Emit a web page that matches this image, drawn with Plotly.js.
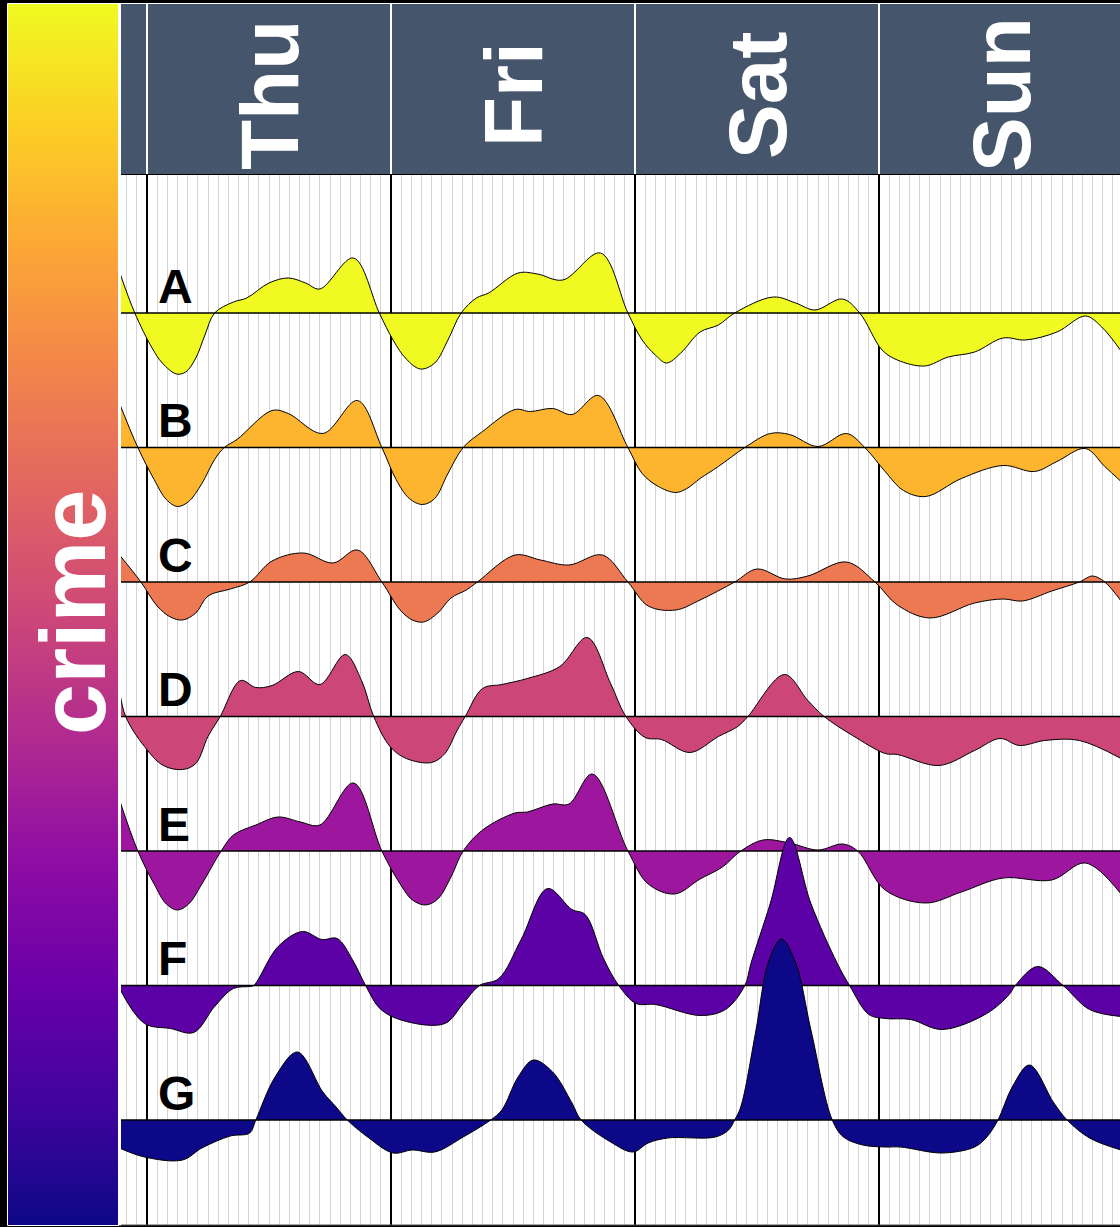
<!DOCTYPE html>
<html>
<head>
<meta charset="utf-8">
<script src="https://cdn.plot.ly/plotly-3.0.1.min.js"></script>
<style>html,body{margin:0;padding:0;background:#000;}#chart{width:1120px;height:1227px;}</style>
</head>
<body>
<div id="chart"></div>
<script>
// ---- data (hours from Thu 00:00, deviation of each crime from its mean) ----
const categories = ['A', 'B', 'C', 'D', 'E', 'F', 'G'];
const days = ['Thu', 'Fri', 'Sat', 'Sun'];
const dayStartHours = [0, 24, 48, 72];

const hoursA = [-2.7, -1.2, 0.5, 1.5, 2.9, 3.8, 4.8, 5.7, 6.65, 8.5, 9.8, 12.0, 13.9, 15.6, 17.0, 20.3, 22.85, 24.2, 25.5, 26.9, 28.3, 29.6, 30.9, 32.4, 33.6, 36.5, 38.4, 40.9, 44.6, 47.3, 48.7, 50.0, 51.1, 52.5, 54.4, 56.2, 57.8, 61.6, 63.8, 65.7, 68.4, 70.1, 72.3, 73.8, 76.5, 78.8, 81.4, 84.2, 86.4, 89.5, 92.3, 93.9, 95.8];
const valuesA = [41, 0, -35, -50, -61, -59, -45, -22, 0, 11, 15, 30, 35, 30, 24, 55, 0, -27, -46, -56, -50, -27, 0, 15, 20, 40, 39, 33, 60, 0, -27, -42, -50, -40, -19, -12, 0, 16, 10, 3, 14, 0, -37, -47, -53, -44, -39, -25, -27, -19, -3, -14, -38];

const hoursB = [-2.7, -0.9, 0.7, 1.9, 3.0, 4.1, 5.4, 6.65, 7.6, 8.85, 12.3, 13.9, 17.3, 20.7, 23.1, 24.5, 25.8, 27.1, 28.3, 29.6, 31.1, 33.0, 36.2, 37.7, 39.9, 41.8, 44.4, 47.3, 48.7, 50.3, 52.0, 53.1, 54.4, 56.2, 58.8, 61.3, 63.2, 66.0, 68.8, 70.6, 72.6, 74.4, 76.6, 80.1, 84.2, 87.3, 89.5, 92.3, 94.2, 95.8];
const valuesB = [44, 0, -32, -52, -59, -54, -36, -12, 0, 8, 37, 34, 14, 47, 0, -32, -51, -57, -51, -26, 0, 16, 38, 36, 39, 33, 52, 0, -26, -39, -45, -41, -31, -19, 0, 14, 13, 1, 14, 0, -24, -43, -49, -31, -18, -24, -14, -1, -19, -34];

const hoursC = [-2.7, -0.6, 1.0, 2.3, 3.5, 4.8, 6.0, 8.2, 10.1, 12.3, 15.4, 18.3, 20.7, 23.1, 24.9, 26.1, 27.2, 28.6, 29.9, 31.4, 32.5, 36.2, 38.7, 41.5, 44.8, 47.3, 49.3, 52.0, 54.4, 57.8, 60.0, 62.8, 65.0, 68.8, 71.6, 73.8, 77.0, 81.4, 84.2, 86.1, 89.0, 91.7, 93.0, 94.2, 95.8];
const valuesC = [27, 0, -24, -35, -38, -31, -14, -7, 0, 21, 29, 19, 32, 0, -28, -38, -40, -31, -16, -8, 0, 27, 22, 17, 27, 0, -24, -28, -18, 0, 13, 3, 6, 20, 0, -23, -36, -21, -17, -19, -9, 0, 6, 0, -19];

const hoursD = [-2.7, -2.1, -0.25, 1.6, 3.5, 4.8, 6.0, 7.2, 9.2, 10.7, 12.3, 14.9, 17.0, 19.5, 21.1, 22.3, 23.9, 25.5, 28.0, 29.3, 30.5, 31.3, 33.0, 34.9, 37.4, 40.6, 43.3, 45.6, 47.1, 49.0, 50.6, 53.4, 56.2, 58.1, 59.1, 62.7, 65.0, 66.6, 69.4, 72.6, 73.8, 77.9, 81.4, 83.9, 85.8, 88.3, 91.7, 95.8];
const valuesD = [26, 0, -30, -49, -53, -47, -20, 0, 36, 29, 31, 45, 32, 62, 36, 0, -30, -42, -46, -37, -14, 0, 28, 32, 38, 50, 79, 33, 0, -21, -23, -36, -20, -10, 0, 42, 16, 0, -19, -37, -38, -49, -34, -22, -29, -24, -24, -42];

const hoursE = [-2.7, -0.9, 0.7, 1.9, 3.0, 4.1, 5.4, 7.3, 8.5, 10.7, 12.9, 15.1, 17.0, 20.3, 23.1, 24.9, 26.1, 27.4, 28.6, 29.9, 31.1, 33.0, 36.2, 37.4, 39.9, 41.5, 43.8, 47.3, 49.3, 51.9, 54.4, 56.6, 58.4, 60.6, 63.2, 66.0, 68.4, 69.9, 72.6, 76.6, 80.1, 84.2, 89.0, 92.3, 95.8];
const valuesE = [51, 0, -33, -53, -59, -53, -33, 0, 16, 26, 34, 29, 26, 68, 0, -33, -49, -54, -48, -26, 0, 21, 38, 39, 47, 47, 77, 0, -33, -43, -28, -16, 0, 11, 8, 1, 7, 0, -39, -52, -41, -27, -29, -12, -43];

const hoursF = [-2.7, -0.25, 2.3, 4.6, 6.65, 8.5, 10.1, 10.5, 12.9, 15.3, 17.2, 18.7, 20.2, 21.5, 23.0, 25.5, 29.3, 31.1, 32.7, 34.6, 36.8, 39.4, 41.8, 43.1, 44.9, 46.4, 48.1, 50.0, 54.4, 56.9, 58.8, 59.4, 61.3, 63.2, 65.3, 67.9, 69.1, 71.0, 72.6, 75.1, 78.2, 82.6, 84.8, 85.4, 87.6, 90.1, 92.7, 95.8];
const valuesF = [-3, -38, -43, -47, -21, -3, -1, 0, 39, 54, 46, 47, 26, 0, -24, -36, -38, -18, 0, 7, 46, 97, 76, 71, 27, 0, -18, -19, -30, -24, 0, 22, 82, 148, 82, 22, 0, -29, -33, -34, -44, -28, -9, 0, 19, 0, -24, -31];

const hoursG = [-2.7, -0.25, 3.5, 5.4, 8.2, 10.1, 10.7, 12.6, 14.8, 17.3, 18.6, 19.7, 21.7, 24.2, 26.1, 28.3, 31.1, 33.8, 34.9, 36.5, 38.0, 39.9, 41.8, 42.7, 45.6, 47.8, 49.3, 51.2, 55.9, 57.2, 57.8, 58.4, 59.9, 61.1, 62.4, 63.8, 65.3, 67.4, 68.5, 70.4, 72.6, 74.1, 78.2, 81.4, 82.6, 83.7, 85.1, 86.8, 89.2, 90.5, 92.7, 95.8];
const valuesG = [-28, -37, -40, -28, -16, -13, 0, 43, 68, 28, 13, 0, -17, -33, -30, -32, -17, 0, 10, 43, 60, 48, 17, 0, -22, -32, -23, -18, -17, -10, 0, 13, 90, 157, 181, 157, 90, 0, -17, -25, -27, -27, -33, -27, -17, 0, 33, 55, 17, 0, -18, -30];

// ---- style ----
const colors = ['#f0f921', '#fdb42f', '#ed7953', '#cc4778', '#9c179e', '#5c01a6', '#0d0887'];
const plasmaScale = [
  [0.0, '#0d0887'], [0.1, '#41049d'], [0.2, '#6a00a8'], [0.3, '#8f0da4'],
  [0.4, '#b12a90'], [0.5, '#cc4778'], [0.6, '#e16462'], [0.7, '#f2844b'],
  [0.8, '#fca636'], [0.9, '#fcce25'], [1.0, '#f0f921']
];
const seriesHours = [hoursA, hoursB, hoursC, hoursD, hoursE, hoursF, hoursG];
const seriesValues = [valuesA, valuesB, valuesC, valuesD, valuesE, valuesF, valuesG];

const W = 1120, H = 1227, MT = 4, MB = 2;
const PH = H - MT - MB;                 // paper height in px
const py = p => (H - MB - p) / PH;       // pixel row -> paper y
const px = p => p / W;                   // pixel col -> paper x
const X0 = -2.557, X1 = 95.70;           // visible hours
const firstBase = -138, rowGap = 134.5;  // baseline layout in y-axis units
const labelFont = 'Liberation Sans, Arial, sans-serif';

const traces = [];
const annotations = [];
categories.forEach((cat, i) => {
  const base = firstBase - rowGap * i;
  const hrs = seriesHours[i];
  const xs = [hrs[0], hrs[hrs.length - 1]];
  traces.push({
    type: 'scatter', mode: 'lines', x: xs, y: [base, base],
    line: {color: 'black', width: 1.5}, hoverinfo: 'skip', xaxis: 'x', yaxis: 'y'
  });
  traces.push({
    type: 'scatter', mode: 'lines', x: hrs, y: seriesValues[i].map(v => base + v),
    line: {color: 'black', width: 1, shape: 'spline', smoothing: 1},
    fill: 'tonexty', fillcolor: colors[i], name: cat, xaxis: 'x', yaxis: 'y'
  });
  annotations.push({
    xref: 'x', yref: 'y', x: 0.9, y: base + 27, xanchor: 'left', yanchor: 'middle',
    text: cat, showarrow: false,
    font: {family: labelFont, size: 48, color: 'black', weight: 'bold'}
  });
});

// header subplot placeholder
traces.push({type: 'scatter', x: [null], y: [null], xaxis: 'x2', yaxis: 'y2', hoverinfo: 'skip', showlegend: false});

// colour strip (crime scale)
traces.push({
  type: 'heatmap', xaxis: 'x3', yaxis: 'y3',
  x: [0, 1], y: categories.map((c, i) => categories.length - 1 - i),
  z: categories.map((c, i) => [categories.length - 1 - i, categories.length - 1 - i]),
  colorscale: plasmaScale, zmin: 0, zmax: categories.length - 1, zsmooth: 'best',
  showscale: false, hoverinfo: 'skip'
});

days.forEach((d, k) => {
  annotations.push({
    xref: 'x2', yref: 'paper', x: dayStartHours[k] + 12, y: py(95),
    xanchor: 'center', yanchor: 'middle', textangle: -90, text: d, showarrow: false,
    font: {family: labelFont, size: 82, color: 'white', weight: 'bold'}
  });
});
annotations.push({
  xref: 'paper', yref: 'paper', x: px(73), y: py(612), xanchor: 'center', yanchor: 'middle',
  textangle: -90, text: 'crime', showarrow: false,
  font: {family: labelFont, size: 92, color: 'white', weight: 'bold'}
});

const shapes = [
  // header background
  {type: 'rect', xref: 'x2 domain', yref: 'y2 domain', x0: 0, x1: 1, y0: 0, y1: 1,
   fillcolor: '#45556c', line: {width: 0}, layer: 'below'},
  // white frames
  {type: 'rect', xref: 'paper', yref: 'paper', x0: px(7.5), x1: px(118.5), y0: py(1225.5), y1: py(3.5),
   line: {color: 'white', width: 1}, fillcolor: 'rgba(0,0,0,0)', layer: 'above'},
  {type: 'rect', xref: 'paper', yref: 'paper', x0: px(118.5), x1: px(121), y0: py(1225.5), y1: py(3.5),
   line: {width: 0}, fillcolor: 'white', layer: 'above'},
  {type: 'line', xref: 'paper', yref: 'paper', x0: px(118), x1: 1, y0: py(3.5), y1: py(3.5),
   line: {color: 'white', width: 1}, layer: 'above'},
  {type: 'line', xref: 'paper', yref: 'paper', x0: px(121), x1: 1, y0: py(1225), y1: py(1225),
   line: {color: '#555555', width: 1}, layer: 'above'}
];

const layout = {
  width: W, height: H, margin: {l: 0, r: 0, t: MT, b: MB, pad: 0},
  paper_bgcolor: 'black', plot_bgcolor: 'white', showlegend: false,
  xaxis: {domain: [px(121), 1], range: [X0, X1], anchor: 'y',
    tick0: 0, dtick: 24, showgrid: true, gridcolor: 'black', gridwidth: 2,
    minor: {tick0: 0, dtick: 1, showgrid: true, gridcolor: '#d4d4d4', gridwidth: 1},
    showticklabels: false, ticks: '', zeroline: false, showline: false},
  yaxis: {domain: [0, py(175)], range: [-1050, 0], anchor: 'x',
    showgrid: false, zeroline: false, showticklabels: false, ticks: ''},
  xaxis2: {domain: [px(121), 1], range: [X0, X1], anchor: 'y2',
    tick0: 0, dtick: 24, showgrid: true, gridcolor: 'white', gridwidth: 2,
    showticklabels: false, ticks: '', zeroline: false, showline: false},
  yaxis2: {domain: [py(174), 1], range: [0, 1], anchor: 'x2',
    showgrid: false, zeroline: false, showticklabels: false, ticks: ''},
  xaxis3: {domain: [px(8), px(118)], range: [0, 1], anchor: 'y3', visible: false},
  yaxis3: {domain: [py(1225), py(4)], range: [0, categories.length - 1], anchor: 'x3', visible: false},
  annotations: annotations,
  shapes: shapes
};

Plotly.newPlot('chart', traces, layout, {displayModeBar: false, staticPlot: true});
</script>
</body>
</html>
